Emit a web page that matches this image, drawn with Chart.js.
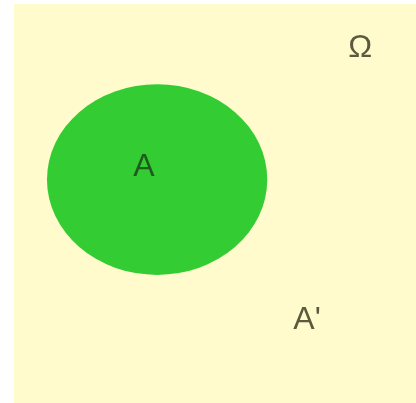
<!DOCTYPE html>
<html>
<head>
<meta charset="utf-8">
<script src="https://cdn.jsdelivr.net/npm/chart.js@4.4.1/dist/chart.umd.min.js"></script>
<style>
html,body{margin:0;padding:0;background:#ffffff;}
canvas{display:block;}
</style>
</head>
<body>
<canvas id="c" width="416" height="403"></canvas>
<script>
// Sets (ellipses) in universe coordinates (0..100 both ways)
const setNames = ['A'];
const setCenterX = [35.6];
const setCenterY = [56.0];
const setRadiusX = [27.4];
const setRadiusY = [23.9];

// Text labels
const labelTexts = ['A', 'Ω', "A'"];
const labelX = [32.3, 86.1, 72.9];
const labelY = [59.0, 89.0, 20.8];

const universeColor = '#fffbcc';
const setColor = '#33cc33';
const labelColors = ['#1f5a1f', '#5a5a3c', '#5a5a3c'];

const universePlugin = {
  id: 'universe',
  beforeDatasetsDraw(chart) {
    const {ctx, chartArea: a, scales: {x, y}} = chart;
    ctx.save();
    ctx.fillStyle = universeColor;
    ctx.fillRect(a.left, a.top, a.right - a.left, a.bottom - a.top);
    const meta = chart.getDatasetMeta(0);
    meta.data.forEach((pt, i) => {
      const rx = Math.abs(x.getPixelForValue(setCenterX[i] + setRadiusX[i]) - x.getPixelForValue(setCenterX[i]));
      const ry = Math.abs(y.getPixelForValue(setCenterY[i] + setRadiusY[i]) - y.getPixelForValue(setCenterY[i]));
      ctx.beginPath();
      ctx.ellipse(pt.x, pt.y, rx, ry, 0, 0, Math.PI * 2);
      ctx.fillStyle = setColor;
      ctx.fill();
    });
    ctx.restore();
  },
  afterDatasetsDraw(chart) {
    const {ctx, scales: {x, y}} = chart;
    ctx.save();
    ctx.font = '32px "Liberation Sans", Arial, sans-serif';
    ctx.textAlign = 'center';
    ctx.textBaseline = 'middle';
    labelTexts.forEach((t, i) => {
      ctx.fillStyle = labelColors[i];
      ctx.fillText(t, x.getPixelForValue(labelX[i]), y.getPixelForValue(labelY[i]));
    });
    ctx.restore();
  }
};

new Chart(document.getElementById('c'), {
  type: 'scatter',
  data: {
    datasets: [{
      label: 'Sets',
      data: setNames.map((n, i) => ({x: setCenterX[i], y: setCenterY[i]})),
      pointRadius: 0,
      pointHoverRadius: 0
    }]
  },
  options: {
    responsive: false,
    animation: false,
    devicePixelRatio: 1,
    layout: {padding: {left: 14, top: 4, right: 0, bottom: 0}},
    plugins: {legend: {display: false}, tooltip: {enabled: false}},
    events: [],
    scales: {
      x: {type: 'linear', min: 0, max: 100, display: false},
      y: {type: 'linear', min: 0, max: 100, display: false}
    }
  },
  plugins: [universePlugin]
});
</script>
</body>
</html>
